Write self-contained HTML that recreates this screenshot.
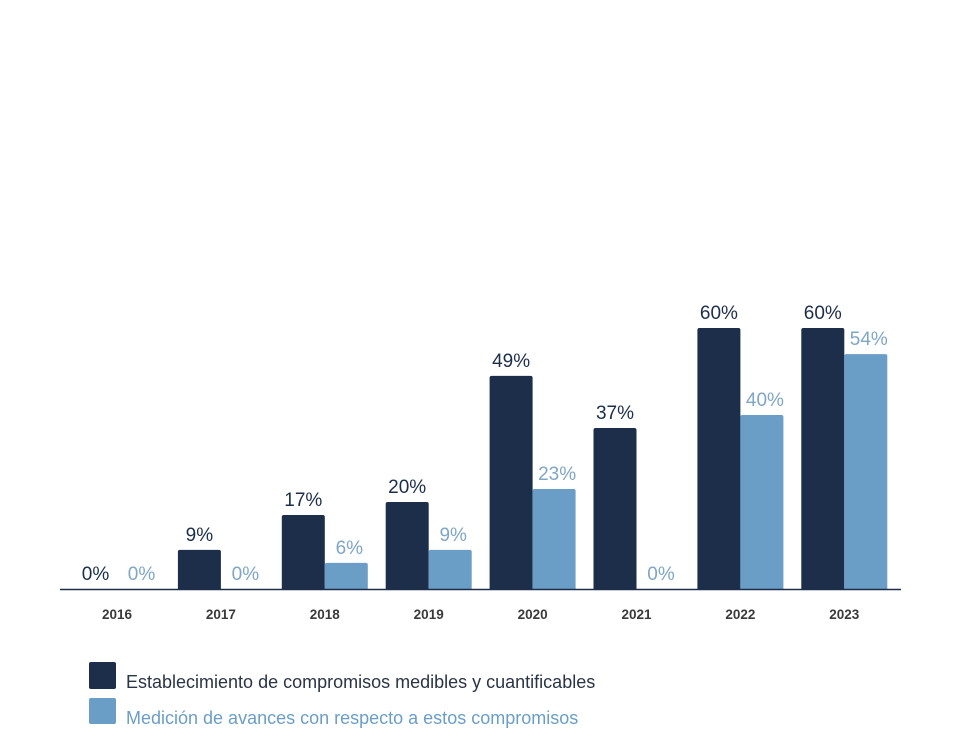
<!DOCTYPE html>
<html><head><meta charset="utf-8"><style>
body{margin:0;background:#fff;}
svg{display:block;font-family:"Liberation Sans",sans-serif;}
</style></head><body>
<svg width="964" height="747">
<g id="bars"></g>
<line x1="60" y1="589.5" x2="901" y2="589.5" stroke="#1c2e4a" stroke-width="1.5"/>
<rect x="89" y="662" width="27" height="27" rx="2" fill="#1c2e4a"/>
<text x="126" y="688" font-size="18" fill="#2a3445">Establecimiento de compromisos medibles y cuantificables</text>
<rect x="89" y="698" width="27" height="26" rx="2" fill="#6a9ec7"/>
<text x="126" y="724" font-size="18" fill="#6a9ec7">Medición de avances con respecto a estos compromisos</text>
</svg>
<script>
const years = ["2016","2017","2018","2019","2020","2021","2022","2023"];
const establecimiento = [0,9,17,20,49,37,60,60];
const medicion = [0,0,6,9,23,0,40,54];
const NS="http://www.w3.org/2000/svg";
const g=document.getElementById("bars");
const base=589, pxPer=4.35, x0=74, step=103.9, bw=43;
const yScale=v=>base-v*pxPer;
function mk(tag,attrs){const e=document.createElementNS(NS,tag);for(const k in attrs)e.setAttribute(k,attrs[k]);g.appendChild(e);return e;}
years.forEach((yr,i)=>{
  const gx=x0+i*step;
  [[establecimiento[i],"#1c2e4a","#1c2e4a",gx,"establecimiento",0],[medicion[i],"#6a9ec7","#7fa6c6",gx+bw,"medicion",3]].forEach(([v,c,tc,x,s,dx])=>{
    const top=yScale(v);
    if(v>0){
      const r=mk("path",{d:`M${x},${base}V${top+2}Q${x},${top} ${x+2},${top}H${x+bw-2}Q${x+bw},${top} ${x+bw},${top+2}V${base}Z`,fill:c});
      
      
    }
    const t=mk("text",{x:x+bw/2+dx,y:top-9,"text-anchor":"middle","font-size":"19",fill:tc});
    t.textContent=v+"%";
    
    
  });
  const l=mk("text",{x:gx+bw,y:619,"text-anchor":"middle","font-size":"13.5","font-weight":"bold",fill:"#3a3a3a"});
  l.textContent=yr;
  
  
});
</script>
</body></html>
